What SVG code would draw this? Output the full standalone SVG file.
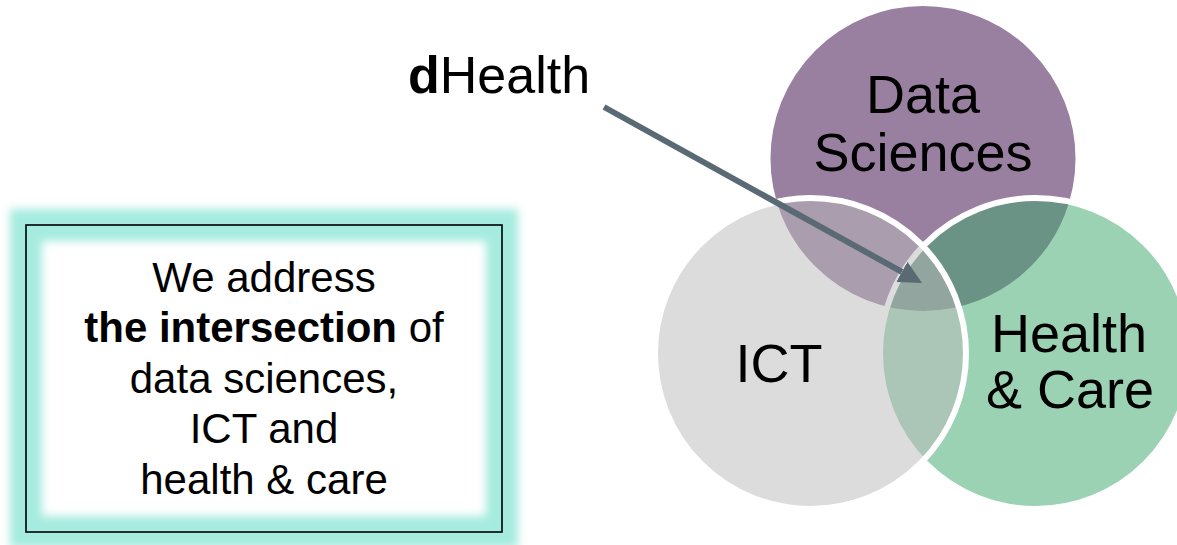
<svg xmlns="http://www.w3.org/2000/svg" width="1177" height="545" viewBox="0 0 1177 545">
  <style>
    .lbl { font-family: "Liberation Sans", Arial, sans-serif; font-size: 54px; fill: #000; text-anchor: middle; }
    .box { font-family: "Liberation Sans", Arial, sans-serif; font-size: 42px; fill: #000; text-anchor: middle; }
    .circ { stroke: #ffffff; stroke-width: 6; }
    .conn { fill: none; stroke: #5a6a74; stroke-width: 6; }
  </style>
  <defs>
    <filter id="glow" x="-15%" y="-20%" width="130%" height="140%">
      <feGaussianBlur stdDeviation="4"/>
    </filter>
    <marker id="head" markerUnits="userSpaceOnUse" markerWidth="24" markerHeight="24" refX="0" refY="11.5" orient="auto" viewBox="0 0 24 24">
      <path d="M0,0 L23,11.5 L0,23 z" fill="#5a6a74"/>
    </marker>
  </defs>
  <rect x="0" y="0" width="1177" height="545" fill="#ffffff"/>

  <g id="node-box">
    <rect x="26" y="225" width="476" height="307" fill="none" stroke="#a6ebdf" stroke-width="32" filter="url(#glow)"/>
    <rect x="26" y="225" width="476" height="307" fill="none" stroke="#000000" stroke-width="1.6"/>
    <text class="box" x="264" y="292">We address</text>
    <text class="box" x="264" y="342.4"><tspan font-weight="bold">the intersection</tspan> of</text>
    <text class="box" x="264" y="392.8">data sciences,</text>
    <text class="box" x="264" y="443.2">ICT and</text>
    <text class="box" x="264" y="493.6">health &amp; care</text>
  </g>

  <g id="node-data-sciences">
    <circle class="circ" cx="923" cy="158.5" r="155.5" fill="#9a80a0"/>
  </g>
  <g id="node-health-care">
    <circle class="circ" cx="1035.5" cy="353.5" r="155.5" fill="rgb(57,165,105)" fill-opacity="0.5"/>
  </g>
  <g id="node-ict">
    <circle class="circ" cx="810.5" cy="353.5" r="155.5" fill="rgb(185,185,185)" fill-opacity="0.5"/>
  </g>

  <g id="labels">
    <text class="lbl" x="923" y="113">Data</text>
    <text class="lbl" x="923" y="171">Sciences</text>
    <text class="lbl" x="779" y="382">ICT</text>
    <text class="lbl" x="1069" y="352">Health</text>
    <text class="lbl" x="1070" y="408">&amp; Care</text>
  </g>

  <g id="node-dhealth">
    <text x="408" y="93" font-family="Liberation Sans, Arial, sans-serif" font-size="52" fill="#000"><tspan font-weight="bold">d</tspan>Health</text>
  </g>

  <g id="connectors">
    <line class="conn" x1="604" y1="107" x2="901.9" y2="271.9" marker-end="url(#head)"/>
  </g>
</svg>
